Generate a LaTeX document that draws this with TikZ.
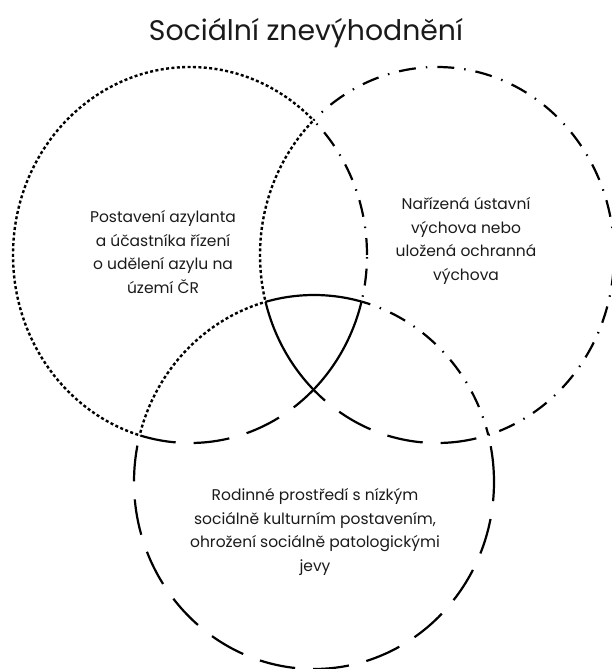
\documentclass[tikz,border=0pt]{standalone}
\usepackage{fontspec}
\setmainfont{Poppins}
\definecolor{inkdark}{HTML}{1A1A1A}
\tikzset{
  rimL/.style={line width=2.4pt, dash pattern=on 3pt off 2.4pt},
  rimR/.style={line width=2.2pt, dash pattern=on 17pt off 10pt on 1.5pt off 10pt},
  rimB/.style={line width=2.2pt, dash pattern=on 36pt off 18pt},
  rimC/.style={line width=2.2pt},
  venntext/.style={align=center, text=inkdark, font=\fontsize{15.5}{23.5}\selectfont}}
% the three sets and a frame around everything
\def\circL{(190,255) ellipse (177pt and 188pt)}
\def\circR{(437,255) ellipse (177pt and 188pt)}
\def\circB{(314,482) ellipse (180pt and 187pt)}
\def\frameall{(-20,-20) rectangle (631,689)}
\begin{document}
\begin{tikzpicture}[x=1pt, y=-1pt]
\useasboundingbox (0,0) rectangle (611,669);
% each rim takes the style of the set it runs through
\foreach \X/\Y/\Z/\xs/\ys/\zs in {\circL/\circR/\circB/rimL/rimR/rimB,
    \circR/\circL/\circB/rimR/rimL/rimB, \circB/\circL/\circR/rimB/rimL/rimR}{
  \begin{scope}[even odd rule]
    \clip \frameall \Y;
    \clip \frameall \Z;
    \draw[\xs] \X;
  \end{scope}
  \begin{scope}[even odd rule]
    \clip \Y;
    \clip \frameall \Z;
    \draw[\ys] \X;
  \end{scope}
  \begin{scope}[even odd rule]
    \clip \Z;
    \clip \frameall \Y;
    \draw[\zs] \X;
  \end{scope}
  \begin{scope}
    \clip \Y;
    \clip \Z;
    \draw[rimC] \X;
  \end{scope}
}
\node[venntext, font=\fontsize{28.3}{32}\selectfont] (title) at (306,33) {Sociální znevýhodnění};
\node[venntext] (asyl) at (163,252) {Postavení azylanta\\a účastníka řízení\\o udělení azylu na\\území ČR};
\node[venntext] (ustav) at (466,241) {Nařízená ústavní\\výchova nebo\\uložená ochranná\\výchova};
\node[venntext] (rodina) at (315,532) {Rodinné prostředí s nízkým\\sociálně kulturním postavením,\\ohrožení sociálně patologickými\\jevy};
\end{tikzpicture}
\end{document}
